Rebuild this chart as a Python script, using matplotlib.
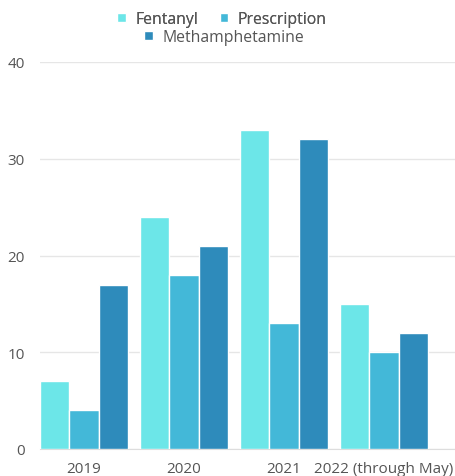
import matplotlib.pyplot as plt
import numpy as np

categories = ['2019', '2020', '2021', '2022 (through May)']
fentanyl = [7, 24, 33, 15]
prescription = [4, 18, 13, 10]
meth = [17, 21, 32, 12]
series_names = ['Fentanyl', 'Prescription', 'Methamphetamine']
colors = ['#6ce6e8', '#43b8d8', '#2e8bbb']

plt.rcParams['font.family'] = ['Open Sans', 'DejaVu Sans']

fig = plt.figure(figsize=(4.55, 4.77), dpi=100)
ax = fig.add_axes([40 / 455, 27 / 477, 415 / 455, 387 / 477])

x = np.arange(len(categories))
w = 0.293
bars = []
for i, (vals, c) in enumerate(zip([fentanyl, prescription, meth], colors)):
    b = ax.bar(x + (i - 1) * w, vals, width=w, color=c, edgecolor='white',
               linewidth=1, zorder=3, label=series_names[i])
    bars.append(b)

ax.set_xlim(-0.44, 3.71)
ax.set_ylim(0, 40)
ax.set_yticks([0, 10, 20, 30, 40])
ax.set_xticks(x)
ax.set_xticklabels(categories)
ax.grid(axis='y', color='#e6e6e6', linewidth=1, zorder=0)
for s in ['top', 'right', 'left']:
    ax.spines[s].set_visible(False)
ax.spines['bottom'].set_color('#dddddd')
ax.tick_params(axis='both', length=0, labelsize=11, colors='#555555')
ax.tick_params(axis='y', pad=11)
ax.tick_params(axis='x', pad=9)

leg1 = fig.legend(handles=[bars[0], bars[1]], loc='center', ncol=2,
                  bbox_to_anchor=(222 / 455, 1 - 20 / 477), frameon=False,
                  fontsize=11.3, handlelength=0.55, handleheight=0.55,
                  handletextpad=0.6, columnspacing=1.4, labelcolor='#555555')
leg2 = fig.legend(handles=[bars[2]], loc='center',
                  bbox_to_anchor=(224 / 455, 1 - 38 / 477), frameon=False,
                  fontsize=11.3, handlelength=0.55, handleheight=0.55,
                  handletextpad=0.6, labelcolor='#555555')
fig.add_artist(leg1)

fig.savefig('out.png', dpi=100)
